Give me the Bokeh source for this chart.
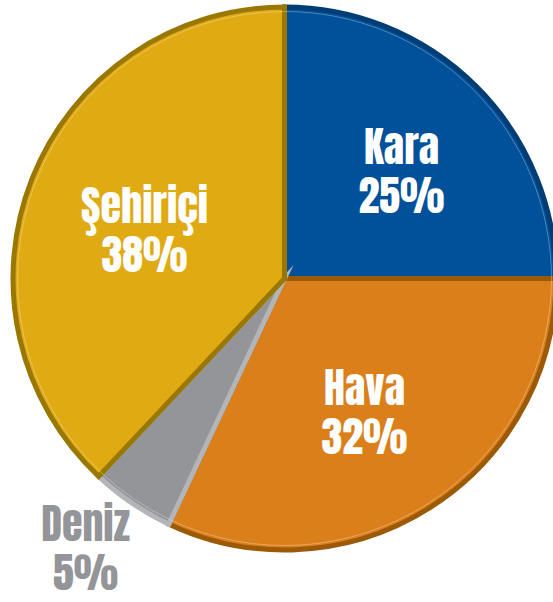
import math
from bokeh.plotting import figure
from bokeh.models import ColumnDataSource, Range1d
from bokeh.core.properties import value
from bokeh.embed import file_html
from bokeh.resources import INLINE

categories = ["Kara", "Hava", "Deniz", "Şehiriçi"]
shares = [25, 32, 5, 38]
pct_labels = ["25%", "32%", "5%", "38%"]
fill_colors = ["#00519a", "#db7f1a", "#939598", "#e0aa12"]
rim_colors = ["#003d75", "#9c5a06", "#b4b5b8", "#9a7800"]
label_colors = ["white", "white", "#939598", "white"]

# layout (image pixel space, y downwards -> data y = -img_y)
cx, cy, R = 284, -278, 274
RIM = 5
label_centers = [(401, -172), (364, -413), (85, -549), (144, -231)]
FONT_PX = 42
LINE1_OFF, LINE2_OFF = 26, -23

total = sum(shares)
starts, ends = [], []
cum = 0.0
for s in shares:
    starts.append(math.pi / 2 - 2 * math.pi * cum / total)
    cum += s
    ends.append(math.pi / 2 - 2 * math.pi * cum / total)

src = ColumnDataSource(dict(cat=categories, start=starts, end=ends,
                            fill=fill_colors, rim=rim_colors))

p = figure(width=553, height=602, output_backend="svg", toolbar_location=None,
           x_range=Range1d(0, 553), y_range=Range1d(-602, 0), min_border=0)
p.axis.visible = False
p.grid.visible = False
p.outline_line_color = None
p.background_fill_color = "white"

p.wedge(x=cx, y=cy, radius=R - RIM / 2, start_angle="start", end_angle="end",
        direction="clock", fill_color="fill", line_color="rim",
        line_width=RIM, line_join="miter", source=src)
# soft bevel highlight along the rim
p.arc(x=cx, y=cy, radius=R - RIM - 2, start_angle="start", end_angle="end",
      direction="clock", line_color="white", line_alpha=0.3, line_width=1, source=src)

l1x, l1y, l2y, l1t, l2t, lc = [], [], [], [], [], []
for (x, y), c, t, col in zip(label_centers, categories, pct_labels, label_colors):
    l1x.append(x); l1y.append(y + LINE1_OFF); l2y.append(y + LINE2_OFF)
    l1t.append(c); l2t.append(t); lc.append(col)

lab = ColumnDataSource(dict(x=l1x, y1=l1y, y2=l2y, t1=l1t, t2=l2t, c=lc))
for ycol, tcol in (("y1", "t1"), ("y2", "t2")):
    p.text(x="x", y=ycol, text=tcol, source=lab, text_color="c",
           text_font=value("Anton"), text_font_style="normal",
           text_font_size=f"{FONT_PX}px", text_align="center", text_baseline="alphabetic")

open("out.html", "w").write(file_html(p, INLINE))
